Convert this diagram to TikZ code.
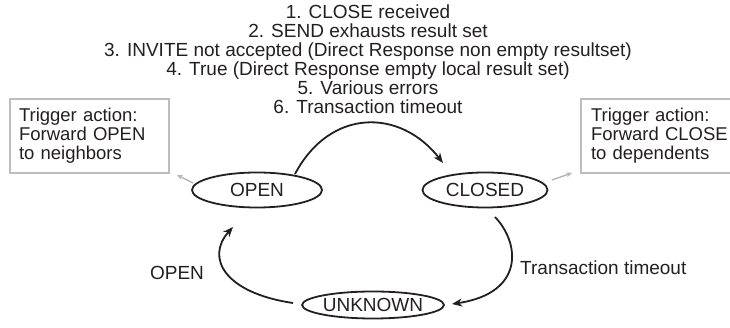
\documentclass[tikz,border=0pt]{standalone}
\usepackage{fontspec}
\setmainfont{Liberation Sans}
\usetikzlibrary{arrows.meta,shapes.geometric,calc}
\definecolor{ink}{HTML}{231F20}
\definecolor{boxgray}{HTML}{BDBDBD}
\definecolor{arrgray}{HTML}{B5B5B5}
\begin{document}
\begin{tikzpicture}[x=1pt,y=1pt,
  every node/.style={font=\fontsize{19}{19}\selectfont, text=ink},
  state/.style={draw=ink, line width=1.8pt, ellipse, inner sep=0pt},
  trigbox/.style={draw=boxgray, line width=1.8pt, rectangle, inner ysep=0pt, align=left, minimum height=74pt, font=\fontsize{18.5}{19}\selectfont},
  trans/.style={draw=ink, line width=1.8pt, -{Stealth[length=10pt,width=8pt,inset=3pt]}},
  hint/.style={draw=arrgray, line width=1.4pt, -{Stealth[length=6pt,width=5pt,inset=2pt]}},
  lbl/.style={inner sep=0pt}
]
\useasboundingbox (0,0) rectangle (730,328);

\node[lbl, align=center] (cond) at (368,268.5) {1. CLOSE received\\2. SEND exhausts result set\\3. INVITE not accepted (Direct Response non empty resultset)\\4. True (Direct Response empty local result set)\\5. Various errors\\6. Transaction timeout};

\node[trigbox, inner xsep=9pt, text width=141pt] (lbox) at (89.5,192) {Trigger action:\\Forward OPEN\\to neighbors};
\node[trigbox, inner xsep=10pt, text width=140pt] (rbox) at (661,192) {Trigger action:\\Forward CLOSE\\to dependents};

\node[state, minimum width=130pt, minimum height=35pt] (open) at (257,138) {OPEN};
\node[state, minimum width=125pt, minimum height=35pt] (closed) at (485,138) {CLOSED};
\node[state, minimum width=128pt, minimum height=27pt] (unknown) at (373,23) {UNKNOWN};

\node[lbl, anchor=west] (tlbl) at (520,60) {Transaction timeout};
\node[lbl] (olbl) at (177,55) {OPEN};

\draw[trans] ($(open.center)+(38,16)$) .. controls (330,220) and (400,220) .. ($(closed.center)+(-42,27)$);
\draw[trans] ($(closed.center)+(10,-27)$) .. controls (520,85) and (525,35) .. ($(unknown.center)+(79,1)$);
\draw[trans] ($(unknown.center)+(-80,2)$) .. controls (225,35) and (205,70) .. ($(open.center)+(-24,-37)$);

\draw[hint] ($(open.center)+(-64,7)$) -- ($(lbox.south east)+(7,-1)$);
\draw[hint] ($(closed.center)+(67,10)$) -- ($(rbox.south west)+(-8,1)$);
\end{tikzpicture}
\end{document}
